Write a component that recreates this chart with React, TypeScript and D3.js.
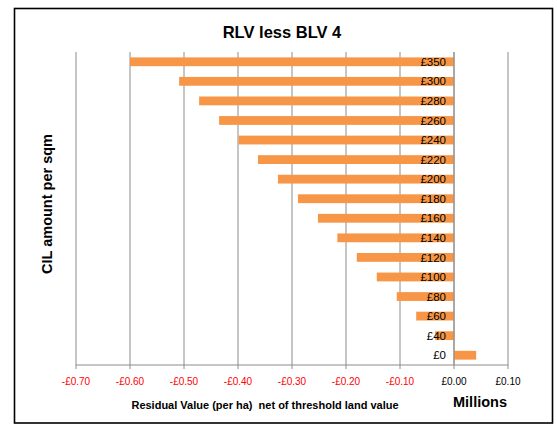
import React from "react";
import * as d3 from "d3";

const categories = ["£0", "£40", "£60", "£80", "£100", "£120", "£140", "£160", "£180", "£200", "£220", "£240", "£260", "£280", "£300", "£350"];
const values = [0.041, -0.035, -0.070, -0.106, -0.143, -0.180, -0.216, -0.252, -0.289, -0.326, -0.363, -0.399, -0.435, -0.472, -0.509, -0.600];
const xTicks = [-0.7, -0.6, -0.5, -0.4, -0.3, -0.2, -0.1, 0, 0.1];

const W = 557;
const H = 428;
const left = 76, right = 508, top = 52, bottom = 365;

export default function App() {
  const x = d3.scaleLinear().domain([-0.7, 0.1]).range([left, right]);
  const y = d3
    .scaleBand<string>()
    .domain([...categories].reverse())
    .range([top, bottom])
    .paddingInner(0.55)
    .paddingOuter(0.275);
  const fmt = (v: number) => (v < 0 ? "-£" : "£") + Math.abs(v).toFixed(2);
  const font = "Arial, 'Liberation Sans', sans-serif";
  return (
    <svg width={W} height={H} style={{ position: "absolute", left: 0, top: 0 }} fontFamily={font}>
      <rect x={0} y={0} width={W} height={H} fill="#fff" />
      <rect x={14.5} y={8.5} width={538} height={414.5} fill="#fff" stroke="#000" strokeWidth={1.6} />
      <text x={282} y={38} textAnchor="middle" fontSize={16.5} fontWeight="bold" fill="#000">
        RLV less BLV 4
      </text>
      {xTicks.map((t) => (
        <line key={"g" + t} x1={x(t)} x2={x(t)} y1={top} y2={bottom + 4} stroke="#8c8c8c" strokeWidth={1} />
      ))}
      <line x1={left} x2={right} y1={bottom} y2={bottom} stroke="#8c8c8c" strokeWidth={1} />
      {categories.map((c, i) => {
        const v = values[i];
        return (
          <rect
            key={c}
            x={x(Math.min(0, v))}
            y={y(c)}
            width={Math.abs(x(v) - x(0))}
            height={y.bandwidth()}
            fill="#F79646"
          />
        );
      })}
      <line x1={x(0)} x2={x(0)} y1={top} y2={bottom} stroke="#8c8c8c" strokeWidth={1} />
      {categories.map((c) => (
        <text
          key={"l" + c}
          x={x(0) - 8}
          y={(y(c) as number) + y.bandwidth() / 2}
          dy="0.36em"
          textAnchor="end"
          fontSize={11.5}
          fill="#000"
        >
          {c}
        </text>
      ))}
      {xTicks.map((t) => (
        <text
          key={"t" + t}
          x={x(t)}
          y={385}
          textAnchor="middle"
          fontSize={10}
          fill={t < 0 ? "#ff0000" : "#000"}
        >
          {fmt(t)}
        </text>
      ))}
      <text
        x={265}
        y={409}
        textAnchor="middle"
        fontSize={11}
        fontWeight="bold"
        fill="#000"
        style={{ whiteSpace: "pre" }}
      >
        {"Residual Value (per ha)  net of threshold land value"}
      </text>
      <text x={480} y={407} textAnchor="middle" fontSize={14.5} fontWeight="bold" fill="#000">
        Millions
      </text>
      <text
        transform={`translate(52, 204) rotate(-90)`}
        textAnchor="middle"
        fontSize={14.5}
        fontWeight="bold"
        fill="#000"
      >
        CIL amount per sqm
      </text>
    </svg>
  );
}
